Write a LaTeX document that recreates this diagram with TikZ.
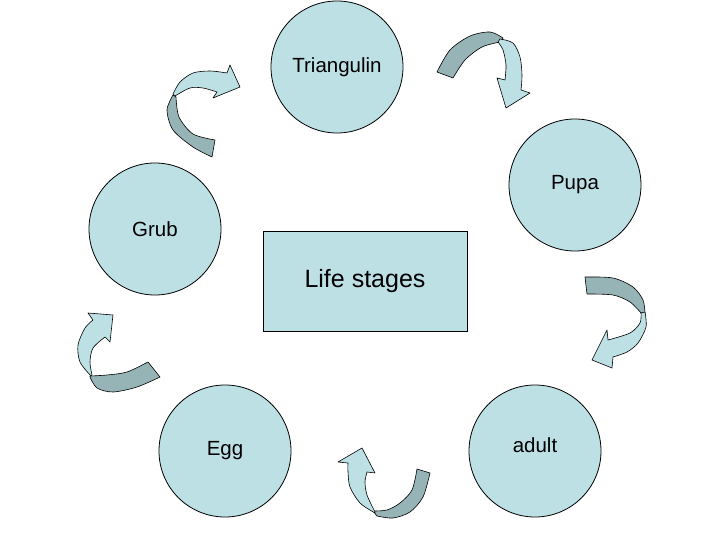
\documentclass[tikz,border=0pt]{standalone}
\usepackage{fontspec}
\setmainfont{Liberation Sans}
\usetikzlibrary{positioning}
\definecolor{stagefill}{RGB}{189,224,229}
\definecolor{stageshade}{RGB}{150,179,182}

\begin{document}
\begin{tikzpicture}[x=1pt, y=-1pt,
    stage/.style={draw, circle, line width=0.8pt, fill=stagefill, minimum size=132pt, inner sep=0pt, font=\fontsize{20.5}{24}\selectfont},
    arrowtop/.style={draw, fill=stagefill, line width=0.6pt, line join=round},
    arrowunder/.style={draw, fill=stageshade, line width=0.6pt, line join=round}]
    \useasboundingbox (0,0) rectangle (720,540);

    \node (triangulin) [stage] at (337,67) {Triangulin};
    \node (pupa) [stage] at (575,185) {Pupa};
    \node (grub) [stage] at (155,229) {Grub};
    \node (egg) [stage] at (225,451) {Egg};
    \node (adult) [stage, text depth=12pt] at (535,451) {adult};
    \node (stages) [draw, rectangle, line width=0.8pt, fill=stagefill, minimum width=204pt, minimum height=100pt, font=\fontsize{25}{29}\selectfont] at (365,281) {Life stages};

    % grub -> triangulin
    \draw[arrowunder] plot[smooth] coordinates {(173,95) (167,110) (173,130) (193,147) (212,157)}
        -- plot[smooth] coordinates {(215,140) (193,134) (179,117) (176,97)} -- cycle;
    \draw[arrowtop] plot[smooth] coordinates {(173,94) (180,82) (193,73) (210,71) (227,73)}
        -- (230,65) -- (240,87) -- (213,98)
        -- plot[smooth] coordinates {(217,92) (203,88) (190,88) (175,96)} -- cycle;

    % triangulin -> pupa
    \draw[arrowunder] plot[smooth] coordinates {(437,72) (450,50) (470,36) (490,32) (503,38)}
        -- plot[smooth] coordinates {(500,42) (482,47) (465,60) (453,78)} -- cycle;
    \draw[arrowtop] plot[smooth] coordinates {(500,39) (513,43) (520,57) (522,75) (521,90)}
        -- (530,93) -- (506,108) -- (497,78)
        -- plot[smooth] coordinates {(505,80) (506,65) (503,50) (498,42)} -- cycle;

    % pupa -> adult
    \draw[arrowunder] plot[smooth] coordinates {(585,277) (613,278) (633,287) (643,300) (645,313)}
        -- plot[smooth] coordinates {(641,313) (630,302) (613,295) (587,294)} -- cycle;
    \draw[arrowtop] plot[smooth] coordinates {(645,312) (646,327) (638,343) (627,352) (613,357)}
        -- (612,368) -- (592,360) -- (607,330)
        -- plot[smooth] coordinates {(608,340) (630,333) (640,323) (641,313)} -- cycle;

    % adult -> egg
    \draw[arrowunder] plot[smooth] coordinates {(417,469) (412,490) (400,503) (387,510) (373,511)}
        -- plot[smooth] coordinates {(377,516) (393,518) (410,512) (423,497) (430,473)} -- cycle;
    \draw[arrowtop] plot[smooth] coordinates {(375,513) (360,503) (350,487) (348,472) (348,463)}
        -- (338,462) -- (362,448) -- (375,473)
        -- plot[smooth] coordinates {(367,472) (365,482) (367,495) (375,512)} -- cycle;

    % egg -> grub
    \draw[arrowunder] plot[smooth] coordinates {(148,362) (127,372) (107,375) (90,376)}
        -- plot[smooth] coordinates {(90,377) (97,388) (113,392) (137,387) (160,377)} -- cycle;
    \draw[arrowtop] plot[smooth] coordinates {(91,376) (80,362) (78,345) (85,328) (93,320)}
        -- (88,313) -- (113,315) -- (110,342)
        -- plot[smooth] coordinates {(105,337) (93,348) (90,362) (92,375)} -- cycle;
\end{tikzpicture}
\end{document}
